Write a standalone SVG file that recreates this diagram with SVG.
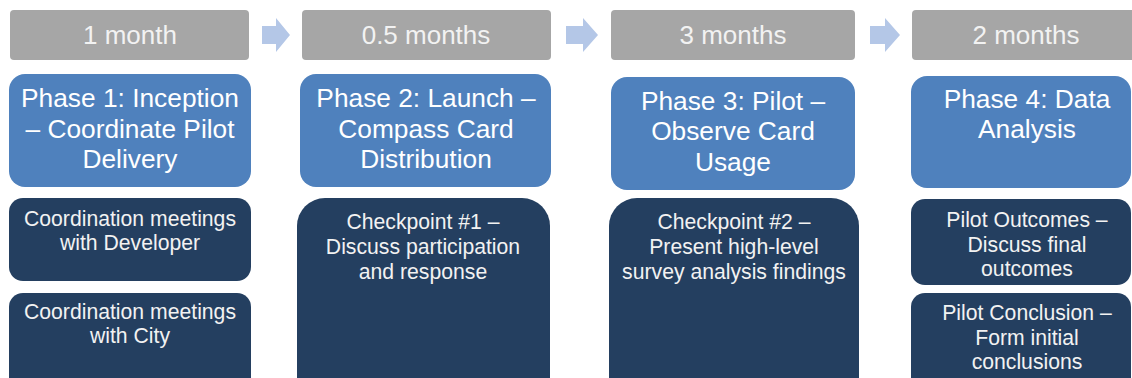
<svg xmlns="http://www.w3.org/2000/svg" width="1132" height="378" viewBox="0 0 1132 378">
  <style>
    .dur { fill: #a6a6a6; }
    .dur-t { fill: #f2f2f2; font-family: "Liberation Sans", Arial, sans-serif; font-size: 26px; text-anchor: middle; }
    .phase { fill: #4f81bd; }
    .phase-t { fill: #ffffff; font-family: "Liberation Sans", Arial, sans-serif; font-size: 26.3px; text-anchor: middle; }
    .task { fill: #243f60; }
    .task-t { fill: #f2f2f2; font-family: "Liberation Sans", Arial, sans-serif; font-size: 21.2px; text-anchor: middle; }
    .step { fill: #b4c7e7; }
  </style>
  <rect width="1132" height="378" fill="#ffffff"/>

  <!-- step arrows between durations -->
  <g id="connectors">
    <polygon class="step" points="262,26 276,26 276,18 290,35 276,52 276,44 262,44"/>
    <polygon class="step" points="566,26 583,26 583,18 598,35 583,52 583,44 566,44"/>
    <polygon class="step" points="870,26 885,26 885,18 900,35 885,52 885,44 870,44"/>
  </g>

  <!-- column 1 -->
  <g id="dur1">
    <rect class="dur" x="10" y="10" width="239" height="50" rx="4"/>
    <text class="dur-t" x="130" y="44">1 month</text>
  </g>
  <g id="phase1">
    <rect class="phase" x="9" y="74" width="242" height="113" rx="16"/>
    <text class="phase-t" x="130" y="107">Phase 1: Inception</text>
    <text class="phase-t" x="130" y="138">– Coordinate Pilot</text>
    <text class="phase-t" x="130" y="168">Delivery</text>
  </g>
  <g id="task1a">
    <rect class="task" x="9" y="198" width="242" height="83" rx="14"/>
    <text class="task-t" x="130" y="226">Coordination meetings</text>
    <text class="task-t" x="130" y="250">with Developer</text>
  </g>
  <g id="task1b">
    <rect class="task" x="9" y="293" width="242" height="100" rx="14"/>
    <text class="task-t" x="130" y="319">Coordination meetings</text>
    <text class="task-t" x="130" y="343">with City</text>
  </g>

  <!-- column 2 -->
  <g id="dur2">
    <rect class="dur" x="302" y="10" width="249" height="50" rx="4"/>
    <text class="dur-t" x="426" y="44">0.5 months</text>
  </g>
  <g id="phase2">
    <rect class="phase" x="300" y="74" width="251" height="113" rx="16"/>
    <text class="phase-t" x="426" y="107">Phase 2: Launch –</text>
    <text class="phase-t" x="426" y="138">Compass Card</text>
    <text class="phase-t" x="426" y="168">Distribution</text>
  </g>
  <g id="task2">
    <rect class="task" x="297" y="198" width="253" height="210" rx="28"/>
    <text class="task-t" x="423" y="229">Checkpoint #1 –</text>
    <text class="task-t" x="423" y="254">Discuss participation</text>
    <text class="task-t" x="423" y="279">and response</text>
  </g>

  <!-- column 3 -->
  <g id="dur3">
    <rect class="dur" x="611" y="10" width="244" height="50" rx="4"/>
    <text class="dur-t" x="733" y="44">3 months</text>
  </g>
  <g id="phase3">
    <rect class="phase" x="611" y="77" width="244" height="113" rx="16"/>
    <text class="phase-t" x="733" y="110">Phase 3: Pilot –</text>
    <text class="phase-t" x="733" y="140">Observe Card</text>
    <text class="phase-t" x="733" y="171">Usage</text>
  </g>
  <g id="task3">
    <rect class="task" x="609" y="198" width="250" height="210" rx="28"/>
    <text class="task-t" x="734" y="229">Checkpoint #2 –</text>
    <text class="task-t" x="734" y="254">Present high-level</text>
    <text class="task-t" x="734" y="279">survey analysis findings</text>
  </g>

  <!-- column 4 -->
  <g id="dur4">
    <rect class="dur" x="912" y="10" width="228" height="50" rx="4"/>
    <text class="dur-t" x="1026" y="44">2 months</text>
  </g>
  <g id="phase4">
    <rect class="phase" x="911" y="76" width="220" height="112" rx="16"/>
    <text class="phase-t" x="1027" y="108">Phase 4: Data</text>
    <text class="phase-t" x="1027" y="138">Analysis</text>
  </g>
  <g id="task4a">
    <rect class="task" x="911" y="199" width="220" height="86" rx="14"/>
    <text class="task-t" x="1027" y="227">Pilot Outcomes –</text>
    <text class="task-t" x="1027" y="252">Discuss final</text>
    <text class="task-t" x="1027" y="276">outcomes</text>
  </g>
  <g id="task4b">
    <rect class="task" x="911" y="293" width="220" height="100" rx="14"/>
    <text class="task-t" x="1027" y="320">Pilot Conclusion –</text>
    <text class="task-t" x="1027" y="345">Form initial</text>
    <text class="task-t" x="1027" y="369">conclusions</text>
  </g>
</svg>
